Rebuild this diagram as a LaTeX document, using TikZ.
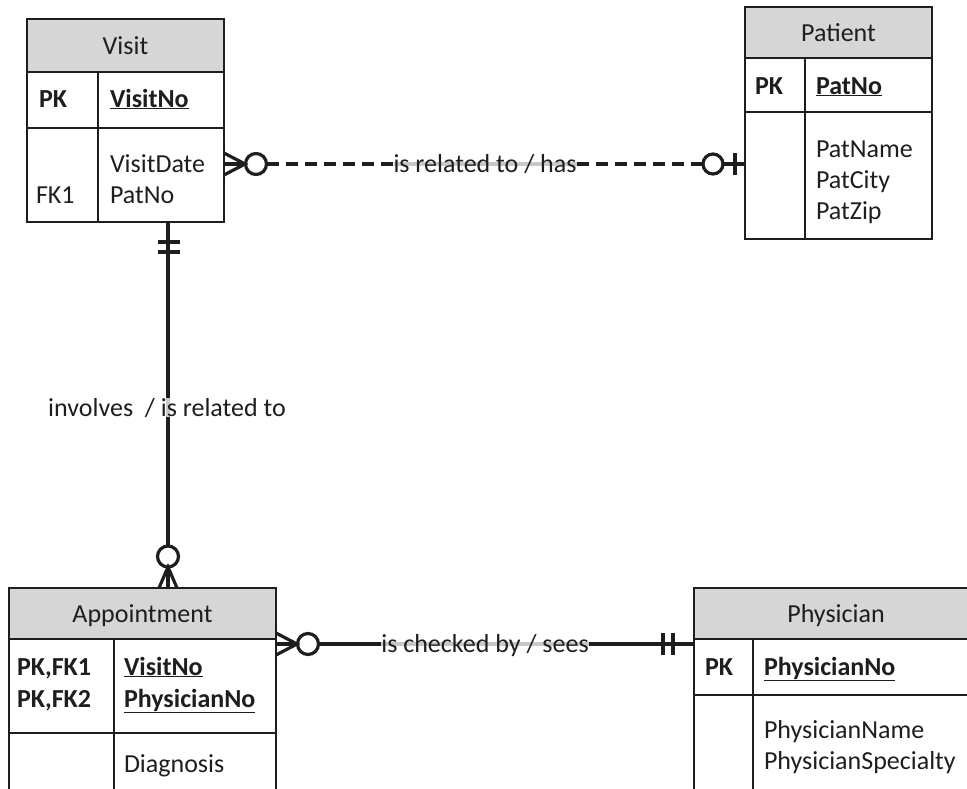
\documentclass[tikz,border=0pt]{standalone}
\usepackage{fontspec}
\setmainfont{Carlito}
\definecolor{hdr}{RGB}{214,214,214}
\definecolor{lblgray}{RGB}{200,200,200}
\definecolor{ink}{RGB}{30,30,30}
\newcommand\tfont{\fontsize{26}{31}\selectfont}
\pgfdeclarelayer{bg}
\pgfsetlayers{bg,main}
\tikzset{
  box/.style={draw=ink, line width=2.7pt, inner sep=0pt, outer sep=0pt, anchor=north west},
  head/.style={box, fill=hdr, font=\tfont, text=ink, text height=17pt, text depth=0pt},
  rule/.style={draw=ink, line width=2.7pt},
  txt/.style={inner sep=0pt, outer sep=0pt, anchor=base west, font=\tfont, text=ink},
  lbl/.style={inner sep=0pt, outer sep=0pt, anchor=base, font=\tfont, text=ink},
  conn/.style={draw=ink, line width=3.2pt},
  dconn/.style={conn, dash pattern=on 12pt off 7pt},
  grayseg/.style={draw=lblgray, line width=3.2pt},
}
\begin{document}
\begin{tikzpicture}[x=1pt,y=-1pt]
\useasboundingbox (0,0) rectangle (967,788);
\clip (0,0) rectangle (967,788);
% ---------------- Visit
\node[box, minimum width=197pt, minimum height=203pt] (visit) at (27,19) {};
\node[head, minimum width=197pt, minimum height=53pt] (visitH) at (27,19) {Visit};
\draw[rule] (visit.west |- 0,128) -- (visit.east |- 0,128);
\draw[rule] (visitH.south -| 98,0) -- (visit.south -| 98,0);
\node[txt] (vpk) at (39,107) {\textbf{PK}};
\node[txt] (vno) at (110,107) {\underline{\textbf{VisitNo}}};
\node[txt] (vdate) at (110,172) {VisitDate};
\node[txt] (vpat) at (110,203) {PatNo};
\node[txt] (vfk) at (36,203) {FK1};
% ---------------- Patient
\node[box, minimum width=187pt, minimum height=232pt] (patient) at (745,7) {};
\node[head, minimum width=187pt, minimum height=51pt] (patientH) at (745,7) {Patient};
\draw[rule] (patient.west |- 0,112) -- (patient.east |- 0,112);
\draw[rule] (patientH.south -| 805,0) -- (patient.south -| 805,0);
\node[txt] (ppk) at (755,94) {\textbf{PK}};
\node[txt] (pno) at (816,94) {\underline{\textbf{PatNo}}};
\node[txt] (pname) at (816,157) {PatName};
\node[txt] (pcity) at (816,188) {PatCity};
\node[txt] (pzip) at (816,219) {PatZip};
% ---------------- Appointment
\node[box, minimum width=267pt, minimum height=220pt] (appt) at (9,588) {};
\node[head, minimum width=267pt, minimum height=51pt] (apptH) at (9,588) {Appointment};
\draw[rule] (appt.west |- 0,733) -- (appt.east |- 0,733);
\draw[rule] (apptH.south -| 114,0) -- (appt.south -| 114,0);
\node[txt] (apk1) at (17,675) {\textbf{PK,FK1}};
\node[txt] (apk2) at (17,707) {\textbf{PK,FK2}};
\node[txt] (avno) at (124,675) {\underline{\textbf{VisitNo}}};
\node[txt] (aphno) at (124,707) {\underline{\textbf{PhysicianNo}}};
\node[txt] (adiag) at (124,772) {Diagnosis};
% ---------------- Physician
\node[box, minimum width=284pt, minimum height=220pt] (phys) at (694,588) {};
\node[head, minimum width=284pt, minimum height=51pt] (physH) at (694,588) {Physician};
\draw[rule] (phys.west |- 0,695) -- (phys.east |- 0,695);
\draw[rule] (physH.south -| 753,0) -- (phys.south -| 753,0);
\node[txt] (phpk) at (705,675) {\textbf{PK}};
\node[txt] (phno) at (764,675) {\underline{\textbf{PhysicianNo}}};
\node[txt] (phname) at (764,738) {PhysicianName};
\node[txt] (phspec) at (764,769) {PhysicianSpecialty};
% ---------------- labels
\node[lbl] (l1) at (485,172) {is related to / has};
\node[lbl] (l2) at (485,652) {is checked by / sees};
\node[lbl] (l3) at (167,416) {involves\ \ / is related to};
% ---------------- connectors
\coordinate (yVP) at (0,164);
\coordinate (yAP) at (0,644);
\coordinate (xVA) at (168,0);
\begin{pgfonlayer}{bg}
% Visit -- Patient (zero-or-many to zero-or-one), dashed
\draw[conn] (visit.east |- yVP) -- (245,164);
\draw[conn] (visit.east |- 0,153) -- (245,164) -- (visit.east |- 0,175);
\draw[conn] (256,164) circle[radius=10.5];
\draw[dconn] (267,164) -- (l1.west |- yVP);
\draw[grayseg] (l1.west |- yVP) -- (l1.east |- yVP);
\draw[dconn] (l1.east |- yVP) -- (703,164);
\draw[conn] (713,164) circle[radius=10];
\draw[conn] (723,164) -- (patient.west |- yVP);
\draw[conn] (735,153) -- (735,175);
% Visit -- Appointment (one-and-only-one to zero-or-many)
\draw[conn] (visit.south -| xVA) -- (l3.north -| xVA);
\draw[grayseg] (l3.north -| xVA) -- (l3.south -| xVA);
\draw[conn] (l3.south -| xVA) -- (168,546);
\draw[conn] (158,242) -- (180,242);
\draw[conn] (158,252) -- (180,252);
\draw[conn] (168,556.5) circle[radius=10.5];
\draw[conn] (168,567) -- (apptH.north -| xVA);
\draw[conn] (apptH.north -| 159,0) -- (168,567) -- (apptH.north -| 177,0);
% Appointment -- Physician (zero-or-many to one-and-only-one)
\draw[conn] (appt.east |- yAP) -- (297,644);
\draw[conn] (appt.east |- 0,633) -- (297,644) -- (appt.east |- 0,655);
\draw[conn] (308,644) circle[radius=10.5];
\draw[conn] (318.5,644) -- (l2.west |- yAP);
\draw[grayseg] (l2.west |- yAP) -- (l2.east |- yAP);
\draw[conn] (l2.east |- yAP) -- (phys.west |- yAP);
\draw[conn] (663,633) -- (663,655);
\draw[conn] (673,633) -- (673,655);
\end{pgfonlayer}
\end{tikzpicture}
\end{document}
